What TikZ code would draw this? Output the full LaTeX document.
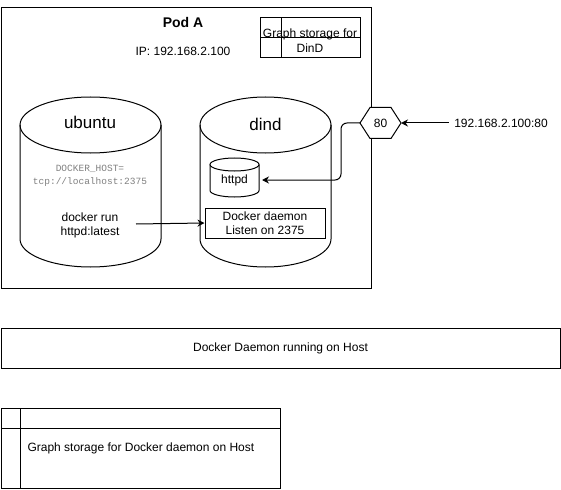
\documentclass[tikz,border=0pt]{standalone}
\usepackage{fontspec}
\setmainfont{Liberation Sans}
\setmonofont{Liberation Mono}
\usetikzlibrary{positioning}
\usetikzlibrary{arrows.meta}

\tikzset{
 txt/.style={font=\fontsize{12}{14}\selectfont, align=center, inner sep=0pt},
 big/.style={font=\fontsize{17}{20}\selectfont, inner sep=0pt},
 code/.style={font=\ttfamily\fontsize{9.5}{12.5}\selectfont, text=gray, align=center, inner sep=0pt},
 conn/.style={-{Stealth[length=7pt,width=7pt]}}
}

\begin{document}
\begin{tikzpicture}[x=1pt,y=-1pt,line width=1pt]
 \useasboundingbox (0,0) rectangle (561,489);
 % pod A
 \draw (1,8) rectangle (371,288);
 \node[txt, font=\bfseries\fontsize{14}{16}\selectfont] (podname) at (183,22) {Pod A};
 \node[txt] (podip) at (183,51) {IP: 192.168.2.100};
 % graph storage for dind
 \draw (260,18) rectangle (360,58);
 \draw (281,18) -- (281,58);
 \draw (260,38) -- (360,38);
 \node[txt, font=\fontsize{12}{15}\selectfont] (dindstore) at (310,40.5) {Graph storage for\\DinD};
 % ubuntu container
 \draw (20,125) -- (20,239) arc[start angle=180,end angle=360,x radius=70.5pt,y radius=28pt] -- (161,125);
 \draw (90.5,125) ellipse[x radius=70.5pt,y radius=28pt];
 \node[big] (ubuntu) at (90,122) {ubuntu};
 \node[code] (dockerhost) at (90,176) {DOCKER\_HOST=\\tcp://localhost:2375};
 \node[txt] (dockerrun) at (90,225) {docker run\\httpd:latest};
 \coordinate (runout) at (136,224);
 % dind container
 \draw (200,125) -- (200,239) arc[start angle=180,end angle=360,x radius=65.5pt,y radius=28pt] -- (331,125);
 \draw (265.5,125) ellipse[x radius=65.5pt,y radius=28pt];
 \node[big] (dind) at (265.5,124) {dind};
 % httpd
 \draw (210,164.5) -- (210,190.5) arc[start angle=180,end angle=360,x radius=24.5pt,y radius=6.5pt] -- (259,164.5);
 \draw (234.5,164.5) ellipse[x radius=24.5pt,y radius=6.5pt];
 \node[txt, minimum width=54pt] (httpd) at (234.5,180) {httpd};
 \node[txt, draw, minimum width=120pt, minimum height=30pt] (daemon) at (265,223) {Docker daemon\\Listen on 2375};
 % port 80
 \draw[fill=white] (360,123) -- (370,107.5) -- (391,107.5) -- (401,123) -- (391,138.5) -- (370,138.5) -- cycle;
 \node[txt] (port) at (380.5,123) {80};
 \coordinate (portL) at (360,123);
 \coordinate (portR) at (401,123);
 \node[txt, inner sep=5pt] (extip) at (501,123) {192.168.2.100:80};
 % connectors
 \draw[conn] (runout) -- (daemon.west);
 \draw[conn] (extip) -- (portR);
 \draw[conn, rounded corners=6pt] (portL) -- ++(-19,0) |- (httpd.east);
 % host
 \node[txt, draw, minimum width=559pt, minimum height=40pt] (host) at (280.5,348) {Docker Daemon running on Host};
 \draw (1,408) rectangle (280,488);
 \draw (20,408) -- (20,488);
 \draw (1,428) -- (280,428);
 \node[txt, anchor=west] (hoststore) at (27,448) {Graph storage for Docker daemon on Host};
\end{tikzpicture}
\end{document}
